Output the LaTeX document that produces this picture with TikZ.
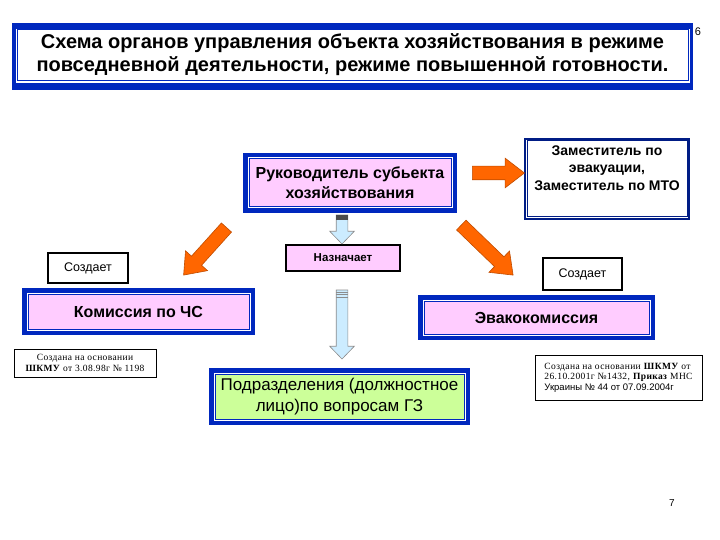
\documentclass[tikz,border=0pt]{standalone}
\usepackage{fontspec}
\setmainfont{Liberation Sans}
\newfontfamily\timesfont[LetterSpace=4]{Liberation Serif}
\usetikzlibrary{shapes.arrows}

\definecolor{frameblue}{RGB}{0,40,190}
\definecolor{boxpink}{RGB}{255,204,255}
\definecolor{boxgreen}{RGB}{204,255,153}
\definecolor{arroworange}{RGB}{255,102,0}
\definecolor{arrowblue}{RGB}{204,236,255}

\begin{document}
\begin{tikzpicture}[x=1pt, y=-1pt,
    framebox/.style={draw=frameblue, line width=1pt, fill=boxpink, align=center,
        inner sep=0pt, font=\bfseries\fontsize{16}{20}\selectfont,
        preaction={draw=frameblue, line width=12pt},
        preaction={draw=white, line width=3pt}},
    greenbox/.style={framebox, fill=boxgreen, font=\fontsize{17}{20.5}\selectfont},
    thinframe/.style={draw=frameblue!70!black, line width=1pt, fill=white, align=center,
        inner sep=0pt, font=\bfseries\fontsize{14}{17.5}\selectfont,
        preaction={draw=frameblue!70!black, line width=6pt},
        preaction={draw=white, line width=2.5pt}},
    labelbox/.style={draw=black, line width=1.3pt, fill=white, inner sep=0pt,
        font=\fontsize{12.5}{14}\selectfont},
    notebox/.style={draw=black, line width=0.6pt, fill=white, inner sep=0pt,
        font=\timesfont\fontsize{9.5}{10.5}\selectfont},
    orangearrow/.style={single arrow, draw=arroworange!75!black, line width=0.6pt,
        fill=arroworange, inner xsep=0pt, inner ysep=6.5pt,
        single arrow head extend=8pt, single arrow head indent=0pt,
        single arrow tip angle=75},
    bluearrow/.style={single arrow, draw=black!45, line width=0.6pt, fill=arrowblue,
        inner xsep=0pt, inner ysep=5.5pt, single arrow head extend=6.5pt,
        single arrow head indent=0pt, single arrow tip angle=88}]
    % ==== PAGE ====
    \fill[white] (0,0) rectangle (720,540);
    % ==== TITLE ====
    \fill[frameblue] (12,23) rectangle (693,90);
    \fill[white] (15.5,29.5) rectangle (689.5,83.5);
    \node[draw=frameblue, line width=1pt, fill=white, minimum width=671pt, minimum height=51pt,
        align=center, font=\bfseries\fontsize{20}{23}\selectfont] (title) at (352.5,55)
        {Схема органов управления объекта хозяйствования в режиме\\
         повседневной деятельности, режиме повышенной готовности.};
    \node[font=\fontsize{11}{13}\selectfont] (pagesix) at (698,32) {6};
    % ==== BOXES ====
    \node[framebox, minimum width=202pt, minimum height=48pt] (ruk) at (350,183)
        {Руководитель субьекта\\хозяйствования};
    \node[thinframe, minimum width=160pt, minimum height=76pt] (zam) at (607,179)
        {Заместитель по\\эвакуации,\\Заместитель по МТО\\[4.5pt]~};
    \node[labelbox, fill=boxpink, minimum width=114pt, minimum height=26pt,
        font=\bfseries\fontsize{11.5}{13}\selectfont] (naz) at (343,258) {Назначает};
    \node[labelbox, minimum width=80pt, minimum height=30pt] (sozL) at (88,268) {Создает};
    \node[labelbox, minimum width=79pt, minimum height=32pt] (sozR) at (582.5,274) {Создает};
    \node[framebox, minimum width=221pt, minimum height=35pt] (kom) at (138.5,311.5)
        {Комиссия по ЧС};
    \node[framebox, minimum width=225pt, minimum height=33pt] (evak) at (536.5,317.5)
        {Эвакокомиссия};
    \node[greenbox, minimum width=249pt, minimum height=45pt] (podr) at (339.5,396.5)
        {Подразделения (должностное\\лицо)по вопросам ГЗ};
    % ==== NOTES ====
    \node[notebox, minimum width=142pt, minimum height=28pt, align=center] (noteL) at (85,363)
        {Создана на основании\\\textbf{ШКМУ} от 3.08.98г № 1198};
    \node[notebox, minimum width=167pt, minimum height=45pt, align=left] (noteR) at (618.5,377.5)
        {Создана на основании \textbf{ШКМУ} от\\26.10.2001г №1432, \textbf{Приказ} МНС\\
         {\normalfont\fontsize{9.5}{10.5}\selectfont Украины № 44 от 07.09.2004г}};
    % ==== ARROWS ====
    \node[orangearrow, minimum height=64pt, rotate=228] (arrL) at (208,248) {};
    \node[orangearrow, minimum height=52pt] (arrH) at (494,173) {};
    \node[orangearrow, minimum height=72pt, rotate=-44] (arrR) at (484,247) {};
    \node[bluearrow, minimum height=29pt, rotate=-90] (arrS) at (342,226.5) {};
    \fill[black!70] (arrS.before tail) rectangle ([yshift=-5pt]arrS.after tail);
    \node[bluearrow, minimum height=69pt, rotate=-90] (arrB) at (342,321.5) {};
    \foreach \k in {2.5,5,7.5}
        \draw[black!45, line width=0.6pt] ([yshift=-\k pt]arrB.before tail) -- ([yshift=-\k pt]arrB.after tail);
    % ==== PAGE NUMBER ====
    \node[font=\fontsize{10}{12}\selectfont] (pageseven) at (672,503) {7};
\end{tikzpicture}
\end{document}
